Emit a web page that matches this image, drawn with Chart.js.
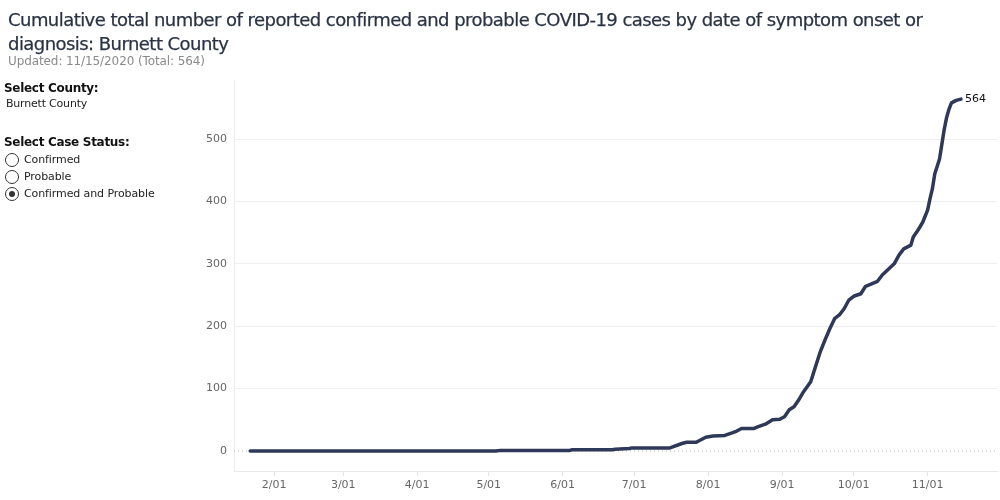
<!DOCTYPE html>
<html>
<head>
<meta charset="utf-8">
<script src="https://cdn.jsdelivr.net/npm/chart.js@4.4.1/dist/chart.umd.min.js"></script>
<style>
  body { margin: 0; width: 1000px; height: 500px; background: #fff; overflow: hidden; position: relative;
         font-family: "DejaVu Sans", sans-serif; }
  #chart { position: absolute; left: 0; top: 0; }
  .title { position: absolute; left: 8px; top: 8px; font-size: 18px; line-height: 24px; color: #2a3344;
           letter-spacing: -0.55px; white-space: nowrap; -webkit-text-stroke: 0.25px #2a3344; }
  .sub { position: absolute; left: 8px; top: 54px; font-size: 12px; color: #8a8a8a; letter-spacing: -0.1px; }
  .lbl { position: absolute; left: 4px; font-size: 12px; font-weight: bold; color: #111; letter-spacing: -0.3px; }
  .val { position: absolute; left: 6px; font-size: 11px; color: #222; letter-spacing: -0.2px; }
  .radio { position: absolute; left: 5px; font-size: 11px; color: #222; letter-spacing: -0.1px; height: 14px; line-height: 14px; }
  .radio span { display: inline-block; width: 12px; height: 12px; border: 1px solid #333; border-radius: 50%;
                vertical-align: top; margin-right: 5px; position: relative; box-sizing: content-box; }
  .radio span.on::after { content: ""; position: absolute; left: 3px; top: 3px; width: 6px; height: 6px;
                          border-radius: 50%; background: #333; }
</style>
</head>
<body>
<canvas id="chart" width="1000" height="500"></canvas>
<div class="title">Cumulative total number of reported confirmed and probable COVID-19 cases by date of symptom onset or<br>diagnosis: Burnett County</div>
<div class="sub">Updated: 11/15/2020 (Total: 564)</div>
<div class="lbl" style="top:81px">Select County:</div>
<div class="val" style="top:97px">Burnett County</div>
<div class="lbl" style="top:135px">Select Case Status:</div>
<div class="radio" style="top:153px"><span></span>Confirmed</div>
<div class="radio" style="top:170px"><span></span>Probable</div>
<div class="radio" style="top:187px"><span class="on"></span>Confirmed and Probable</div>
<script>
// cumulative cases, by symptom onset date
const dates = [
  '2020-01-22', '2020-05-04', '2020-05-06', '2020-06-04', '2020-06-05', '2020-06-22', '2020-06-23',
  '2020-06-29', '2020-06-30', '2020-07-16', '2020-07-21', '2020-07-23', '2020-07-27', '2020-07-31',
  '2020-08-03', '2020-08-08', '2020-08-11', '2020-08-13', '2020-08-15', '2020-08-20', '2020-08-22',
  '2020-08-25', '2020-08-28', '2020-08-31', '2020-09-02', '2020-09-04', '2020-09-06', '2020-09-08',
  '2020-09-10', '2020-09-13', '2020-09-15', '2020-09-17', '2020-09-19', '2020-09-21', '2020-09-23',
  '2020-09-25', '2020-09-27', '2020-09-29', '2020-10-01', '2020-10-04', '2020-10-06', '2020-10-08',
  '2020-10-11', '2020-10-13', '2020-10-16', '2020-10-18', '2020-10-20', '2020-10-22', '2020-10-25',
  '2020-10-26', '2020-10-28', '2020-10-30', '2020-11-01', '2020-11-02', '2020-11-03', '2020-11-04',
  '2020-11-06', '2020-11-07', '2020-11-08', '2020-11-09', '2020-11-10', '2020-11-11', '2020-11-13',
  '2020-11-15'
];
const cases = [
  0, 0, 1, 1, 2, 2, 3,
  4, 5, 5, 12, 14, 14, 22,
  24, 25, 29, 32, 36, 36, 39,
  43, 50, 51, 55, 66, 71, 82,
  95, 111, 135, 159, 178, 196, 212,
  218, 228, 242, 248, 252, 264, 267,
  272, 282, 293, 300, 314, 324, 330,
  343, 354, 367, 386, 404, 420, 444,
  468, 492, 516, 535, 548, 558, 562,
  564
];
const monthTickDates = ['2020-02-01', '2020-03-01', '2020-04-01', '2020-05-01', '2020-06-01',
                        '2020-07-01', '2020-08-01', '2020-09-01', '2020-10-01', '2020-11-01'];
const monthTickLabels = ['2/01', '3/01', '4/01', '5/01', '6/01', '7/01', '8/01', '9/01', '10/01', '11/01'];
const yTicks = [0, 100, 200, 300, 400, 500];

// day of year, Jan 1 = 1
const dayOf = s => (Date.UTC(+s.slice(0, 4), +s.slice(5, 7) - 1, +s.slice(8, 10)) - Date.UTC(2020, 0, 1)) / 86400000 + 1;

const xMin = 15.2, xMax = 335.1;
const points = dates.map((d, i) => ({ x: dayOf(d), y: cases[i] }));
const tickDays = monthTickDates.map(dayOf);

const lastLabel = {
  id: 'lastLabel',
  afterDatasetsDraw(chart) {
    const meta = chart.getDatasetMeta(0);
    const pt = meta.data[meta.data.length - 1];
    const c = chart.ctx;
    c.save();
    c.font = '11px "DejaVu Sans"';
    c.fillStyle = '#111';
    c.textBaseline = 'middle';
    c.fillText(String(cases[cases.length - 1]), pt.x + 4, pt.y);
    c.restore();
  }
};

new Chart(document.getElementById('chart'), {
  type: 'line',
  data: {
    datasets: [{
      data: points,
      borderColor: '#2e3858',
      borderWidth: 3.5,
      pointRadius: 0,
      tension: 0,
      borderCapStyle: 'round',
      borderJoinStyle: 'round'
    }, {
      data: [{ x: xMin, y: 0 }, { x: xMax, y: 0 }],
      borderColor: '#b5b5b5',
      borderWidth: 1,
      borderDash: [1, 3],
      pointRadius: 0
    }]
  },
  options: {
    responsive: false,
    animation: false,
    layout: { padding: { left: 170, top: 80, right: 3, bottom: 0 } },
    plugins: { legend: { display: false }, tooltip: { enabled: false } },
    scales: {
      x: {
        type: 'linear',
        min: xMin,
        max: xMax,
        afterBuildTicks: s => { s.ticks = tickDays.map(v => ({ value: v })); },
        afterFit: s => { s.height = 29; },
        ticks: {
          autoSkip: false,
          maxRotation: 0,
          padding: 3,
          color: '#666',
          font: { family: 'DejaVu Sans', size: 11 },
          callback: (v, i) => monthTickLabels[i]
        },
        grid: { drawOnChartArea: false, drawTicks: true, tickLength: 5, tickColor: '#e4e4e4' },
        border: { color: '#e8e8e8' }
      },
      y: {
        min: -32.05,
        max: 594.6,
        afterBuildTicks: s => { s.ticks = yTicks.map(v => ({ value: v })); },
        afterFit: s => { s.width = 64; },
        ticks: {
          padding: 7,
          color: '#666',
          font: { family: 'DejaVu Sans', size: 11 }
        },
        grid: {
          drawTicks: false,
          color: c => (c.tick && c.tick.value === 0) ? 'rgba(0,0,0,0)' : '#efefef'
        },
        border: { color: '#ececec' }
      }
    }
  },
  plugins: [lastLabel]
});
</script>
</body>
</html>
